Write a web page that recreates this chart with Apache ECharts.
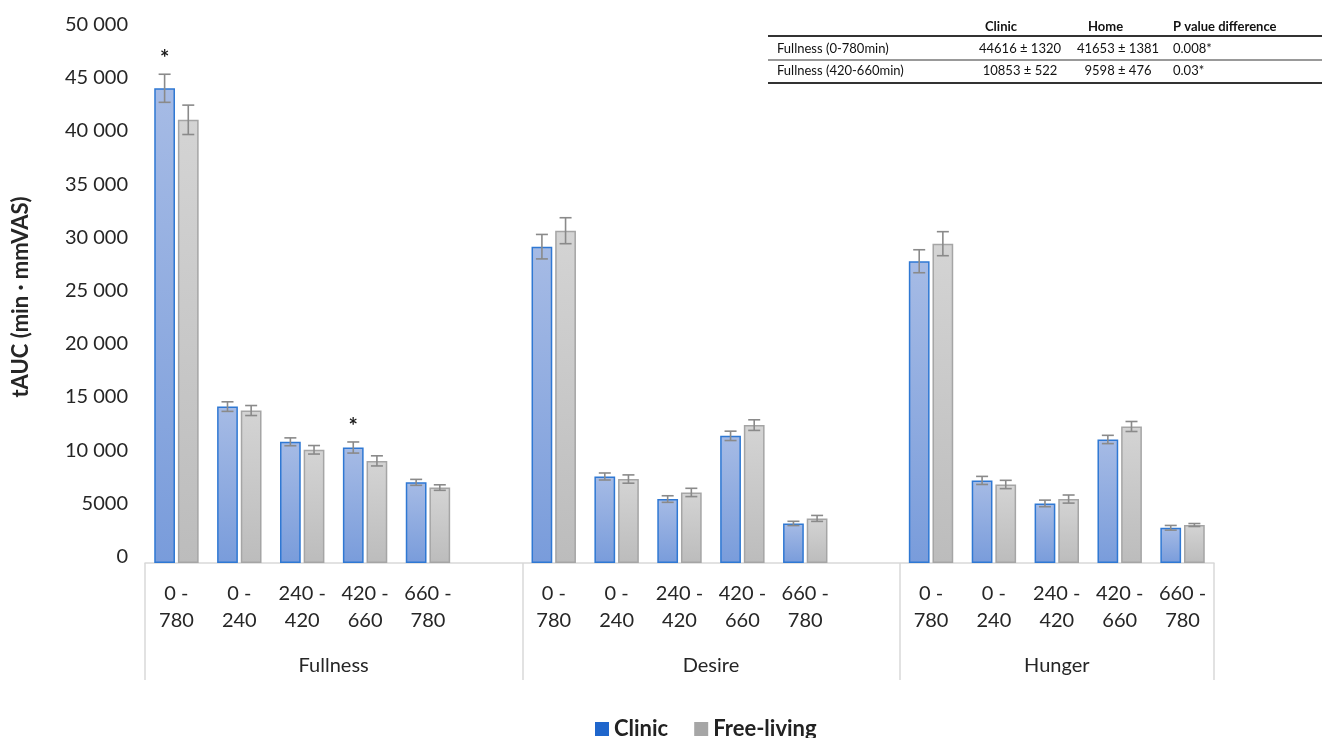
<!DOCTYPE html>
<html><head><meta charset="utf-8">
<script src="https://cdn.jsdelivr.net/npm/echarts@6/dist/echarts.min.js"></script>
<style>html,body{margin:0;padding:0;background:#fff}#c{width:1325px;height:738px}</style>
</head><body><div id="c"></div>
<script>
// ---- data ----
const intervals = ['0 -\n780', '0 -\n240', '240 -\n420', '420 -\n660', '660 -\n780'];
const groups = ['Fullness', 'Desire', 'Hunger'];

const clinicFullness = [44616, 14700, 11390, 10853, 7580];
const clinicFullnessErr = [1320, 450, 370, 522, 280];
const freeFullness = [41653, 14330, 10640, 9598, 7090];
const freeFullnessErr = [1381, 470, 400, 476, 260];

const clinicDesire = [29730, 8130, 6010, 11950, 3720];
const clinicDesireErr = [1150, 330, 310, 440, 200];
const freeDesire = [31230, 7890, 6630, 12960, 4190];
const freeDesireErr = [1220, 390, 390, 500, 280];

const clinicHunger = [28360, 7760, 5600, 11610, 3310];
const clinicHungerErr = [1080, 380, 310, 390, 220];
const freeHunger = [30010, 7380, 6010, 12830, 3570];
const freeHungerErr = [1130, 390, 380, 470, 140];

const sigFullness = ['*', '', '', '*', ''];
const sigDesire = ['', '', '', '', ''];
const sigHunger = ['', '', '', '', ''];

const yMin = 0, yMax = 50000, yStep = 5000;

const tableHeader = ['Clinic', 'Home', 'P value difference'];
const tableLabels = ['Fullness (0-780min)', 'Fullness (420-660min)'];
const tableClinic = ['44616 ± 1320', '10853 ± 522'];
const tableHome = ['41653 ± 1381', '9598 ± 476'];
const tableP = ['0.008*', '0.03*'];

// ---- build ----
const clinicAll = [clinicFullness, clinicDesire, clinicHunger];
const clinicErrAll = [clinicFullnessErr, clinicDesireErr, clinicHungerErr];
const freeAll = [freeFullness, freeDesire, freeHunger];
const freeErrAll = [freeFullnessErr, freeDesireErr, freeHungerErr];
const sigAll = [sigFullness, sigDesire, sigHunger];

const categories = [], clinicVals = [], freeVals = [];
const clinicErrData = [], freeErrData = [], clinicMarks = [];
const groupBounds = [];
groups.forEach((g, gi) => {
  const start = categories.length;
  intervals.forEach((iv, i) => {
    const idx = categories.length;
    categories.push(iv);
    clinicVals.push(clinicAll[gi][i]);
    freeVals.push(freeAll[gi][i]);
    clinicErrData.push([idx, clinicAll[gi][i], clinicErrAll[gi][i]]);
    freeErrData.push([idx, freeAll[gi][i], freeErrAll[gi][i]]);
    clinicMarks.push(sigAll[gi][i]);
  });
  if (gi < groups.length - 1) {
    categories.push('');
    clinicVals.push('-');
    freeVals.push('-');
  }
  groupBounds.push([start, categories.length]);
});
const nCat = categories.length;

const FONT = 'Lato';
const BAR_W = 0.33, BAR_GAP = 0.14;
const ERR_COLOR = '#8a8a8a';

function errRender(sign, marks) {
  return function (params, api) {
    const idx = api.value(0), v = api.value(1), e = api.value(2);
    const band = api.size([1, 0])[0];
    const bw = band * BAR_W;
    const off = sign * bw * (1 + BAR_GAP) / 2;
    const x = api.coord([idx, v])[0] + off;
    const yT = api.coord([idx, v + e])[1];
    const yB = api.coord([idx, v - e])[1];
    const cap = 6;
    const st = { stroke: ERR_COLOR, lineWidth: 1.6 };
    const ch = [
      { type: 'line', shape: { x1: x, y1: yT, x2: x, y2: yB }, style: st },
      { type: 'line', shape: { x1: x - cap, y1: yT, x2: x + cap, y2: yT }, style: st },
      { type: 'line', shape: { x1: x - cap, y1: yB, x2: x + cap, y2: yB }, style: st }
    ];
    const m = marks ? marks[params.dataIndex] : '';
    if (m) {
      ch.push({ type: 'text', style: { text: m, x: x, y: yT - 15, align: 'center', verticalAlign: 'middle',
        font: 'bold 22px ' + FONT, fill: '#1a1a1a' } });
    }
    return { type: 'group', children: ch };
  };
}

function fmtY(v) {
  let s = String(v);
  if (v >= 10000) s = s.slice(0, s.length - 3) + ' ' + s.slice(-3);
  return '{t|' + s + '}';
}

const blueGrad = { type: 'linear', x: 0, y: 0, x2: 0, y2: 1,
  colorStops: [{ offset: 0, color: '#a6bbe5' }, { offset: 1, color: '#799cdb' }] };
const grayGrad = { type: 'linear', x: 0, y: 0, x2: 0, y2: 1,
  colorStops: [{ offset: 0, color: '#d4d4d4' }, { offset: 1, color: '#bcbcbc' }] };

// table graphics
const tX0 = 768, tX1 = 1322;
const colLabel = 777, colClinic = 1020, colHome = 1118, colP = 1173;
const hdrY = 27, rowY = [48.5, 71], lineY = [36, 60, 83];
const tFont = '13px ' + FONT, tBold = 'bold 13px ' + FONT;
const graphics = [];
[[985, 0], [1088, 1], [colP, 2]].forEach(([x, i]) => {
  graphics.push({ type: 'text', x: x, y: hdrY, style: { text: tableHeader[i], font: tBold, fill: '#111', verticalAlign: 'middle' } });
});
tableLabels.forEach((lab, i) => {
  graphics.push({ type: 'text', x: colLabel, y: rowY[i], style: { text: lab, font: tFont, fill: '#111', verticalAlign: 'middle' } });
  graphics.push({ type: 'text', x: colClinic, y: rowY[i], style: { text: tableClinic[i], font: tFont, fill: '#111', align: 'center', verticalAlign: 'middle' } });
  graphics.push({ type: 'text', x: colHome, y: rowY[i], style: { text: tableHome[i], font: tFont, fill: '#111', align: 'center', verticalAlign: 'middle' } });
  graphics.push({ type: 'text', x: colP, y: rowY[i], style: { text: tableP[i], font: tFont, fill: '#111', verticalAlign: 'middle' } });
});
graphics.push({ type: 'line', shape: { x1: tX0, y1: lineY[0], x2: tX1, y2: lineY[0] }, style: { stroke: '#333', lineWidth: 2 } });
graphics.push({ type: 'line', shape: { x1: tX0, y1: lineY[1], x2: tX1, y2: lineY[1] }, style: { stroke: '#777', lineWidth: 1.5 } });
graphics.push({ type: 'line', shape: { x1: tX0, y1: lineY[2], x2: tX1, y2: lineY[2] }, style: { stroke: '#333', lineWidth: 2 } });

const chart = echarts.init(document.getElementById('c'));
chart.setOption({
  animation: false,
  textStyle: { fontFamily: FONT },
  grid: { left: 145, right: 111, top: 31, bottom: 175 },
  legend: {
    left: 590, top: 713, itemWidth: 14, itemHeight: 14, itemGap: 26, icon: 'rect',
    textStyle: { fontFamily: FONT, fontSize: 22, fontWeight: 'bold', color: '#222' },
    data: [
      { name: 'Clinic', itemStyle: { color: '#1f66cc', borderWidth: 0 } },
      { name: 'Free-living', itemStyle: { color: '#a6a6a6', borderWidth: 0 } }
    ]
  },
  xAxis: [
    {
      type: 'category', data: categories, position: 'bottom',
      axisLine: { show: true, lineStyle: { color: '#d9d9d9', width: 1.5 } },
      axisTick: { show: false },
      axisLabel: { interval: 0, margin: 17, fontFamily: FONT, fontSize: 20, color: '#262626', lineHeight: 27, verticalAlign: 'top' }
    },
    {
      type: 'value', min: 0, max: nCat, position: 'bottom',
      axisLine: { show: false },
      splitLine: { show: false },
      axisTick: { show: true, length: 117, customValues: groupBounds.map(b => b[0]).concat([nCat]),
        lineStyle: { color: '#d9d9d9', width: 1.5 } },
      axisLabel: { show: true, customValues: groupBounds.map(b => (b[0] + b[1]) / 2), margin: 90,
        verticalAlign: 'top', lineHeight: 26, fontFamily: FONT, fontSize: 20, color: '#262626',
        formatter: v => { const i = groupBounds.findIndex(b => (b[0] + b[1]) / 2 === v); return i >= 0 ? groups[i] : ''; } }
    }
  ],
  yAxis: {
    type: 'value', min: yMin, max: yMax, interval: yStep,
    axisLine: { show: false }, axisTick: { show: false }, splitLine: { show: false },
    axisLabel: { margin: 17, formatter: fmtY,
      rich: { t: { fontFamily: FONT, fontSize: 20, color: '#262626', padding: [0, 0, 13, 0] } } },
    name: 'tAUC (min · mmVAS)', nameLocation: 'middle', nameRotate: 90, nameGap: 113,
    nameTextStyle: { fontFamily: FONT, fontSize: 22, fontWeight: 'bold', color: '#262626' }
  },
  series: [
    { name: 'Clinic', type: 'bar', data: clinicVals, barWidth: (BAR_W * 100) + '%', barGap: (BAR_GAP * 100) + '%',
      itemStyle: { color: blueGrad, borderColor: '#2f78d3', borderWidth: 1.5 } },
    { name: 'Free-living', type: 'bar', data: freeVals, barWidth: (BAR_W * 100) + '%',
      itemStyle: { color: grayGrad, borderColor: '#a5a5a5', borderWidth: 1.5 } },
    { name: 'errClinic', type: 'custom', data: clinicErrData, renderItem: errRender(-1, clinicMarks), z: 5,
      encode: { x: 0, y: 1 } },
    { name: 'errFree', type: 'custom', data: freeErrData, renderItem: errRender(1, null), z: 5,
      encode: { x: 0, y: 1 } }
  ],
  graphic: graphics
});
</script></body></html>
